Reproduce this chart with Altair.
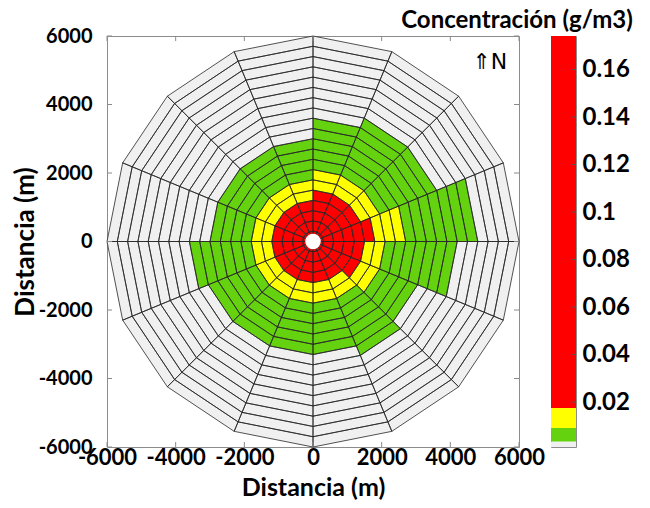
import math
import altair as alt
import pandas as pd

# ---------------- data ----------------
SECTOR_START_DEG = [0, 22.5, 45, 67.5, 90, 112.5, 135, 157.5,
                    180, 202.5, 225, 247.5, 270, 292.5, 315, 337.5]
SECTOR_WIDTH_DEG = 22.5
RING_EDGES_M = [0, 300, 600, 900, 1200, 1500, 1800, 2100, 2400, 2700, 3000,
                3300, 3600, 3900, 4200, 4500, 4800, 5100, 5400, 5700, 6000]
# outer radius (m) reached by each concentration band, per sector (clockwise from N)
RED_OUTER_M = [1500, 1500, 1500, 1800, 1500, 1500, 1200, 1200,
               1200, 1200, 1200, 1200, 1200, 1200, 1200, 1200]
YELLOW_OUTER_M = [2100, 2100, 2100, 2700, 2100, 2100, 1800, 1800,
                  1800, 1800, 1800, 1800, 1800, 1800, 1800, 1800]
GREEN_OUTER_M = [3600, 3900, 3900, 4800, 4200, 3300, 3600, 3300,
                 3300, 3300, 3300, 3600, 3000, 3000, 3000, 3000]
LEVELS = ["bajo", "verde", "amarillo", "rojo"]
LEVEL_COLORS = ["#f0f0f0", "#64d20f", "#ffff00", "#ff0000"]
LEVEL_LIMITS = [0.0011, 0.0034, 0.0091, 0.0175, 0.1741]
AXIS_TICKS = [-6000, -4000, -2000, 0, 2000, 4000, 6000]
CBAR_TICKS = [0.02, 0.04, 0.06, 0.08, 0.1, 0.12, 0.14, 0.16]
CBAR_TITLE = "Concentración (g/m3)"
AXIS_TITLE = "Distancia (m)"

# ---------------- tables ----------------
rows = []
for k, a0 in enumerate(SECTOR_START_DEG):
    a1 = a0 + SECTOR_WIDTH_DEG
    for j in range(len(RING_EDGES_M) - 1):
        r0, r1 = RING_EDGES_M[j], RING_EDGES_M[j + 1]
        if r1 <= RED_OUTER_M[k]:
            lvl = "rojo"
        elif r1 <= YELLOW_OUTER_M[k]:
            lvl = "amarillo"
        elif r1 <= GREEN_OUTER_M[k]:
            lvl = "verde"
        else:
            lvl = "bajo"
        corners = [(r0, a0), (r1, a0), (r1, a1), (r0, a1), (r0, a0)]
        for v, (r, a) in enumerate(corners):
            rad = math.radians(a)
            rows.append({"cell": f"{k}-{j}", "v": v,
                         "x": r * math.sin(rad), "y": r * math.cos(rad),
                         "nivel": lvl})
cells = pd.DataFrame(rows)

bands = pd.DataFrame({"lo": LEVEL_LIMITS[:-1], "hi": LEVEL_LIMITS[1:], "nivel": LEVELS})
ticks_df = pd.DataFrame({"t": AXIS_TICKS})
cticks_df = pd.DataFrame({"t": CBAR_TICKS})

W, H = 412, 411
FONT = "Lato"
xs = alt.Scale(domain=[-6000, 6000], nice=False, zero=False)
ys = alt.Scale(domain=[-6000, 6000], nice=False, zero=False)
color = alt.Color("nivel:N", scale=alt.Scale(domain=LEVELS, range=LEVEL_COLORS), legend=None)

xaxis = alt.Axis(values=AXIS_TICKS, labelExpr="'' + datum.value", title=AXIS_TITLE,
                 labelFontSize=22, labelPadding=0, titlePadding=7, titleFontSize=25,
                 labelOverlap=False, labelFlush=False)
yaxis = alt.Axis(values=AXIS_TICKS, labelExpr="'' + datum.value", title=AXIS_TITLE,
                 labelFontSize=20, labelPadding=15, titlePadding=0, titleFontSize=26,
                 labelOverlap=False, labelFlush=False)

base = alt.Chart(cells).encode(
    x=alt.X("x:Q", scale=xs, axis=xaxis),
    y=alt.Y("y:Q", scale=ys, axis=yaxis),
    order=alt.Order("v:Q"),
    detail="cell:N",
)
fill = base.mark_line(filled=True, strokeWidth=0).encode(color=color)
outline = base.mark_line(color="#262626", strokeWidth=0.8)

hole = alt.Chart(pd.DataFrame({"x": [0], "y": [0]})).mark_circle(
    size=240, color="white", opacity=1).encode(
    x=alt.X("x:Q", scale=xs), y=alt.Y("y:Q", scale=ys))

tick_style = dict(color="#8a8a8a", strokeWidth=1)
tb = alt.Chart(ticks_df)
xt_bottom = tb.mark_rule(**tick_style).encode(x=alt.X("t:Q", scale=xs), y=alt.value(H), y2=alt.value(H - 5))
xt_top = tb.mark_rule(**tick_style).encode(x=alt.X("t:Q", scale=xs), y=alt.value(0), y2=alt.value(5))
yt_left = tb.mark_rule(**tick_style).encode(y=alt.Y("t:Q", scale=ys), x=alt.value(0), x2=alt.value(5))
yt_right = tb.mark_rule(**tick_style).encode(y=alt.Y("t:Q", scale=ys), x=alt.value(W), x2=alt.value(W - 5))

north = alt.Chart(pd.DataFrame({"x": [5150], "y": [5250], "t": ["⇑N"]})).mark_text(
    fontSize=22, font="DejaVu Sans", color="black", align="center", baseline="middle").encode(
    x=alt.X("x:Q", scale=xs), y=alt.Y("y:Q", scale=ys), text="t:N")

main = alt.layer(fill, outline, hole, xt_bottom, xt_top, yt_left, yt_right, north).properties(
    width=W, height=H)

cs = alt.Scale(domain=[LEVEL_LIMITS[0], LEVEL_LIMITS[-1]], nice=False, zero=False)
caxis = alt.Axis(orient="right", values=CBAR_TICKS, format=".2~f", title=None,
                 labelPadding=6, labelFontSize=24, labelOverlap=False, labelFlush=False)
cbar_rect = alt.Chart(bands).mark_rect().encode(
    y=alt.Y("lo:Q", scale=cs, axis=caxis),
    y2="hi:Q",
    color=color,
)
cbar_ticks = alt.Chart(cticks_df).mark_rule(color="#555555", strokeWidth=1).encode(
    y=alt.Y("t:Q", scale=cs, axis=caxis), x=alt.value(21), x2=alt.value(25))
cbar_title = alt.Chart(pd.DataFrame({"t": [CBAR_TITLE]})).mark_text(
    font=FONT, fontSize=24, fontWeight="bold", color="black",
    align="center", baseline="alphabetic").encode(
    x=alt.value(-34), y=alt.value(-8), text="t:N")
cbar = alt.layer(cbar_rect, cbar_ticks, cbar_title).properties(width=25, height=H)

chart = alt.hconcat(main, cbar, spacing=32, bounds="flush").properties(
    padding={"left": 3, "top": 0, "right": 0, "bottom": 0},
).configure_axis(
    labelFont=FONT, labelFontWeight="bold", labelColor="black",
    titleFont=FONT, titleFontWeight="bold", titleColor="black",
    ticks=False, domain=False, grid=False,
).configure_view(stroke="#8c8c8c", strokeWidth=1)

chart.save("out.html", embed_options={"renderer": "svg", "actions": False})
